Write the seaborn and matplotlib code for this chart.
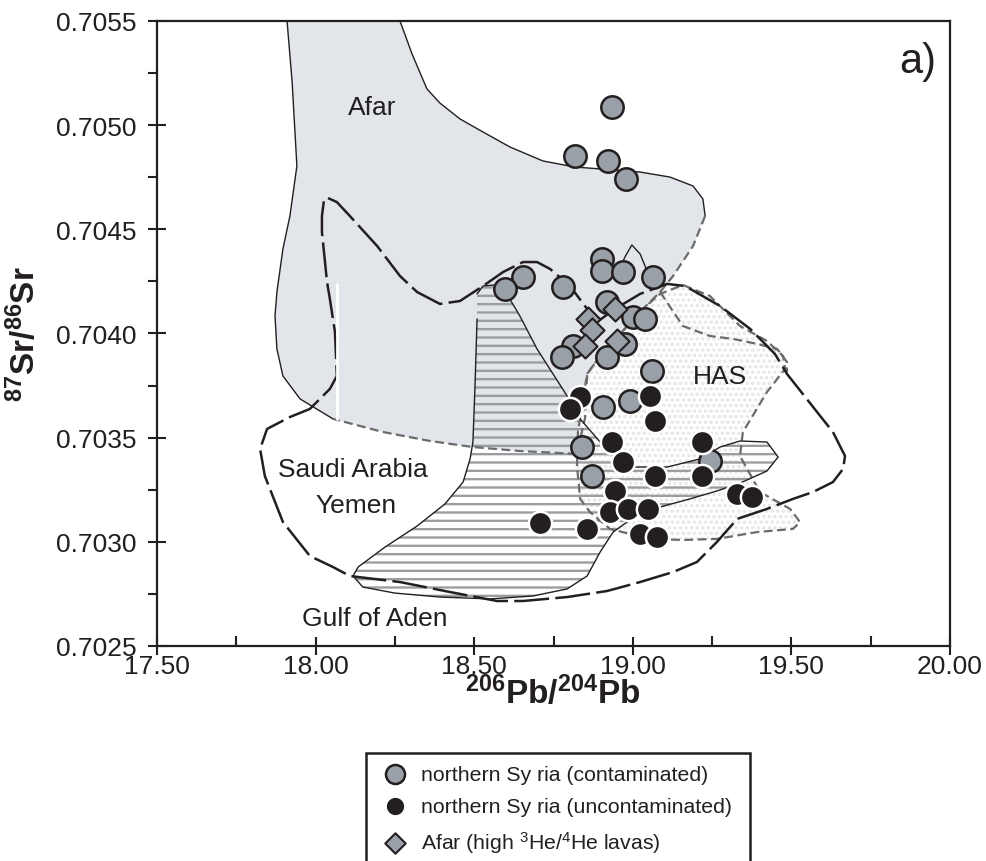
import numpy as np
import pandas as pd
import matplotlib
matplotlib.use("Agg")
import matplotlib.pyplot as plt
import seaborn as sns
from matplotlib.patches import Polygon
from matplotlib.ticker import MultipleLocator, FormatStrFormatter

# ---------------- data ----------------
CONT_X = [18.934, 18.818, 18.922, 18.979, 18.903, 18.903, 18.969, 19.064, 18.654, 18.597,
          18.780, 18.919, 19.001, 19.038, 18.811, 18.777, 18.919, 18.975, 19.061, 18.906,
          18.991, 18.840, 18.871, 19.243]
CONT_Y = [0.705087, 0.704852, 0.704828, 0.704742, 0.704358, 0.704300, 0.704295, 0.704271, 0.704271, 0.704214,
          0.704223, 0.704151, 0.704079, 0.704070, 0.703940, 0.703887, 0.703887, 0.703950, 0.703820, 0.703647,
          0.703676, 0.703455, 0.703316, 0.703388]

UNC_X = [18.834, 18.802, 19.054, 19.070, 18.934, 19.218, 18.969, 19.070, 19.218, 18.944,
         18.928, 18.985, 19.048, 18.707, 18.856, 19.023, 19.076, 19.329, 19.376]
UNC_Y = [0.703695, 0.703638, 0.703700, 0.703580, 0.703479, 0.703479, 0.703383, 0.703316, 0.703316, 0.703244,
         0.703143, 0.703158, 0.703158, 0.703090, 0.703062, 0.703038, 0.703023, 0.703230, 0.703215]

AFAR_HE_X = [18.859, 18.871, 18.849, 18.944, 18.950]
AFAR_HE_Y = [0.704070, 0.704017, 0.703940, 0.704118, 0.703964]

LEGEND_LABELS = ["northern Sy ria (contaminated)",
                 "northern Sy ria (uncontaminated)",
                 r"Afar (high $^{3}$He/$^{4}$He lavas)"]

# field outlines (data coordinates)
AFAR_TOP_X = [18.266, 18.304, 18.351, 18.392, 18.455, 18.528, 18.613, 18.717, 18.818, 18.897,
              19.023, 19.117, 19.190, 19.221, 19.228]
AFAR_TOP_Y = [0.705500, 0.705342, 0.705174, 0.705106, 0.705030, 0.704967, 0.704895, 0.704828, 0.704799, 0.704790,
              0.704775, 0.704751, 0.704708, 0.704646, 0.704564]
AFAR_EDGE_X = [19.228, 19.190, 19.127, 19.086, 19.032, 18.960, 18.897, 18.856, 18.849, 18.834,
               18.824, 18.644, 18.496, 18.361, 18.213, 18.055]
AFAR_EDGE_Y = [0.704564, 0.704420, 0.704276, 0.704199, 0.704118, 0.703998, 0.703892, 0.703806, 0.703590, 0.703494,
               0.703422, 0.703436, 0.703455, 0.703484, 0.703527, 0.703590]
AFAR_LEFT_X = [18.055, 17.951, 17.897, 17.878, 17.872, 17.878, 17.897, 17.919, 17.941, 17.926, 17.910]
AFAR_LEFT_Y = [0.703590, 0.703686, 0.703796, 0.703926, 0.704084, 0.704199, 0.704406, 0.704564, 0.704804, 0.705207, 0.705500]

SAY_X = [18.039, 18.067, 18.108, 18.194, 18.266, 18.320, 18.392, 18.455, 18.528, 18.591,
         18.654, 18.698, 18.739, 18.802, 18.849, 18.887, 18.944, 19.023, 19.108, 19.165,
         19.275, 19.370, 19.448, 19.486, 19.511, 19.581, 19.631, 19.669, 19.663, 19.631,
         19.568, 19.505, 19.423, 19.329, 19.265, 19.202, 19.127, 19.023, 18.919, 18.793,
         18.654, 18.572, 18.424, 18.266, 18.108, 18.055, 17.982, 17.897, 17.840, 17.825,
         17.847, 17.919, 17.982, 18.045, 18.067, 18.061, 18.045, 18.036, 18.020, 18.020,
         18.026, 18.039]
SAY_Y = [0.704650, 0.704631, 0.704564, 0.704420, 0.704276, 0.704199, 0.704142, 0.704156, 0.704228, 0.704295,
         0.704343, 0.704343, 0.704310, 0.704228, 0.704132, 0.704055, 0.704118, 0.704190, 0.704238, 0.704228,
         0.704132, 0.704022, 0.703902, 0.703806, 0.703758, 0.703623, 0.703527, 0.703412, 0.703350, 0.703287,
         0.703239, 0.703206, 0.703158, 0.703110, 0.702999, 0.702903, 0.702855, 0.702807, 0.702764, 0.702735,
         0.702716, 0.702716, 0.702759, 0.702807, 0.702836, 0.702879, 0.702932, 0.703095, 0.703316, 0.703446,
         0.703542, 0.703599, 0.703638, 0.703734, 0.703796, 0.704007, 0.704166, 0.704247, 0.704487, 0.704564,
         0.704636, 0.704650]

GOA_X = [18.509, 18.528, 18.566, 18.597, 18.644, 18.698, 18.793, 18.834, 18.897, 18.950,
         19.001, 19.108, 19.212, 19.275, 19.338, 19.423, 19.458, 19.423, 19.338, 19.265,
         19.180, 19.086, 19.023, 18.982, 18.938, 18.897, 18.856, 18.793, 18.685, 18.550,
         18.392, 18.250, 18.149, 18.118, 18.134, 18.219, 18.320, 18.408, 18.465, 18.487,
         18.496, 18.503, 18.509]
GOA_Y = [0.704190, 0.704228, 0.704233, 0.704204, 0.704084, 0.703926, 0.703700, 0.703590, 0.703479, 0.703398,
         0.703359, 0.703359, 0.703398, 0.703455, 0.703484, 0.703479, 0.703407, 0.703340, 0.703282, 0.703244,
         0.703206, 0.703167, 0.703134, 0.703095, 0.703047, 0.702951, 0.702836, 0.702774, 0.702740, 0.702726,
         0.702735, 0.702754, 0.702783, 0.702836, 0.702879, 0.702975, 0.703076, 0.703182, 0.703287, 0.703398,
         0.703479, 0.703767, 0.704070]

HAS_X = [18.856, 18.897, 18.960, 19.032, 19.086, 19.158, 19.243, 19.338, 19.423, 19.474,
         19.480, 19.423, 19.347, 19.338, 19.401, 19.496, 19.527, 19.505, 19.392, 19.265,
         19.158, 19.054, 18.928, 18.865, 18.834, 18.824, 18.827, 18.843]
HAS_Y = [0.703806, 0.703892, 0.703998, 0.704118, 0.704190, 0.704233, 0.704180, 0.704036, 0.703964, 0.703892,
         0.703830, 0.703719, 0.703527, 0.703412, 0.703239, 0.703158, 0.703095, 0.703062, 0.703047, 0.703014,
         0.703009, 0.703014, 0.703062, 0.703143, 0.703206, 0.703364, 0.703527, 0.703686]

HAS_INNER_X = [19.086, 19.158, 19.243, 19.316, 19.392, 19.455, 19.486, 19.486]
HAS_INNER_Y = [0.704199, 0.704036, 0.703988, 0.703974, 0.703950, 0.703926, 0.703863, 0.703815]

PEAK_X = [18.953, 18.975, 18.997, 19.023, 19.045]
PEAK_Y = [0.704286, 0.704367, 0.704425, 0.704382, 0.704300]

WHITE_X = [18.067, 18.067]
WHITE_Y = [0.703590, 0.704238]

FIELD_LABELS = ["Afar", "HAS", "Saudi Arabia", "Yemen", "Gulf of Aden", "a)"]
FIELD_LX = [18.178, 19.275, 18.118, 18.127, 18.187, 19.899]
FIELD_LY = [0.705087, 0.703796, 0.703350, 0.703177, 0.702634, 0.705308]

# ---------------- style ----------------
sns.set_theme(style="white")
plt.rcParams["font.family"] = ["Liberation Sans", "DejaVu Sans"]
plt.rcParams["mathtext.fontset"] = "custom"
plt.rcParams["mathtext.rm"] = "Liberation Sans"
plt.rcParams["mathtext.it"] = "Liberation Sans:italic"
plt.rcParams["mathtext.bf"] = "Liberation Sans:bold"
plt.rcParams["mathtext.default"] = "regular"
plt.rcParams["hatch.linewidth"] = 1.7

INK = "#231f20"
GRAY_PT = "#9aa0a8"
AFAR_FILL = "#e2e5ea"

fig = plt.figure(figsize=(9.87, 8.62), dpi=100)
ax = fig.add_axes([157 / 987, 1 - 647 / 862, 793 / 987, 625 / 862])

# fields
afar_poly = list(zip(AFAR_TOP_X + AFAR_EDGE_X + AFAR_LEFT_X, AFAR_TOP_Y + AFAR_EDGE_Y + AFAR_LEFT_Y))
ax.add_patch(Polygon(afar_poly, closed=True, facecolor=AFAR_FILL, edgecolor="none", zorder=1))

has_poly = list(zip(HAS_X, HAS_Y))
ax.add_patch(Polygon(has_poly, closed=True, facecolor="white", edgecolor="none", zorder=2))
ax.add_patch(Polygon(has_poly, closed=True, facecolor="none", edgecolor="#e6e6e6", hatch="...",
                     linewidth=0, zorder=2.1))

goa_poly = list(zip(GOA_X, GOA_Y))
ax.add_patch(Polygon(goa_poly, closed=True, facecolor="none", edgecolor="#9a9da2", hatch="--",
                     linewidth=0, zorder=3))

ax.plot(AFAR_TOP_X, AFAR_TOP_Y, color=INK, lw=1.0, zorder=4)
ax.plot(AFAR_LEFT_X, AFAR_LEFT_Y, color=INK, lw=1.0, zorder=4)
ax.plot(AFAR_EDGE_X, AFAR_EDGE_Y, color="#6b6b6b", lw=1.6, ls=(0, (4, 2)), zorder=4)
ax.plot(HAS_X + HAS_X[:1], HAS_Y + HAS_Y[:1], color="#6b6b6b", lw=1.6, ls=(0, (4, 2)), zorder=4)
ax.plot(HAS_INNER_X, HAS_INNER_Y, color="#6b6b6b", lw=1.6, ls=(0, (4, 2)), zorder=4)
ax.plot(GOA_X, GOA_Y, color=INK, lw=1.0, zorder=4)
ax.plot(PEAK_X, PEAK_Y, color=INK, lw=1.0, zorder=4)
ax.plot(SAY_X, SAY_Y, color=INK, lw=1.8, ls=(0, (14, 2.5)), zorder=4.2)
ax.plot(WHITE_X, WHITE_Y, color="white", lw=2.0, zorder=4.5)

# points
df_c = pd.DataFrame({"x": CONT_X, "y": CONT_Y})
df_u = pd.DataFrame({"x": UNC_X, "y": UNC_Y})
df_a = pd.DataFrame({"x": AFAR_HE_X, "y": AFAR_HE_Y})
sns.scatterplot(data=df_c, x="x", y="y", ax=ax, s=260, color=GRAY_PT, edgecolor=INK,
                linewidth=1.8, marker="o", legend=False, label=LEGEND_LABELS[0], zorder=6)
sns.scatterplot(data=df_a, x="x", y="y", ax=ax, s=150, color=GRAY_PT, edgecolor=INK,
                linewidth=1.5, marker="D", legend=False, label=LEGEND_LABELS[2], zorder=6.5)
sns.scatterplot(data=df_u, x="x", y="y", ax=ax, s=280, color=INK, edgecolor="white",
                linewidth=1.8, marker="o", legend=False, label=LEGEND_LABELS[1], zorder=7)

for t, x, y in zip(FIELD_LABELS, FIELD_LX, FIELD_LY):
    ax.text(x, y, t, ha="center", va="center", fontsize=30 if t == "a)" else 19,
            color=INK, zorder=8)

# axes
ax.set_xlim(17.5, 20.0)
ax.set_ylim(0.7025, 0.7055)
ax.xaxis.set_major_locator(MultipleLocator(0.5))
ax.xaxis.set_minor_locator(MultipleLocator(0.25))
ax.yaxis.set_major_locator(MultipleLocator(0.0005))
ax.yaxis.set_minor_locator(MultipleLocator(0.00025))
ax.xaxis.set_major_formatter(FormatStrFormatter("%.2f"))
ax.yaxis.set_major_formatter(FormatStrFormatter("%.4f"))
ax.tick_params(axis="x", which="major", direction="inout", length=13, width=1.5, colors=INK,
               labelsize=19, pad=-1, bottom=True, top=False)
ax.tick_params(axis="x", which="minor", direction="in", length=7, width=1.5, colors=INK,
               bottom=True, top=False)
ax.tick_params(axis="y", which="major", direction="inout", length=13, width=1.5, colors=INK,
               labelsize=19, pad=8, left=True, right=False)
ax.tick_params(axis="y", which="minor", direction="out", length=6.5, width=1.5, colors=INK,
               left=True, right=False)
for sp in ax.spines.values():
    sp.set_color(INK)
    sp.set_linewidth(1.6)

ax.set_xlabel(r"$\mathbf{^{206}Pb/^{204}Pb}$", fontsize=24, color=INK)
ax.set_ylabel(r"$\mathbf{^{87}Sr/^{86}Sr}$", fontsize=24, color=INK)
ax.xaxis.set_label_coords(0.4994, -0.045)
ax.yaxis.set_label_coords(-0.145, 0.5)

handles, labels = ax.get_legend_handles_labels()
order = [labels.index(l) for l in LEGEND_LABELS]
leg = ax.legend([handles[i] for i in order], [labels[i] for i in order],
                loc="upper left", bbox_to_anchor=(366 / 987, 0.0, 384 / 987, 1 - 754 / 862),
                bbox_transform=fig.transFigure, mode="expand", frameon=True, fancybox=False,
                framealpha=1, edgecolor=INK, fontsize=15.3, borderpad=0.55, labelspacing=0.62,
                handletextpad=0.45, borderaxespad=0, handlelength=1.6, scatterpoints=1,
                markerscale=0.85)
leg.get_frame().set_linewidth(1.8)
for t in leg.get_texts():
    t.set_color(INK)

fig.savefig("out.png", dpi=100)
